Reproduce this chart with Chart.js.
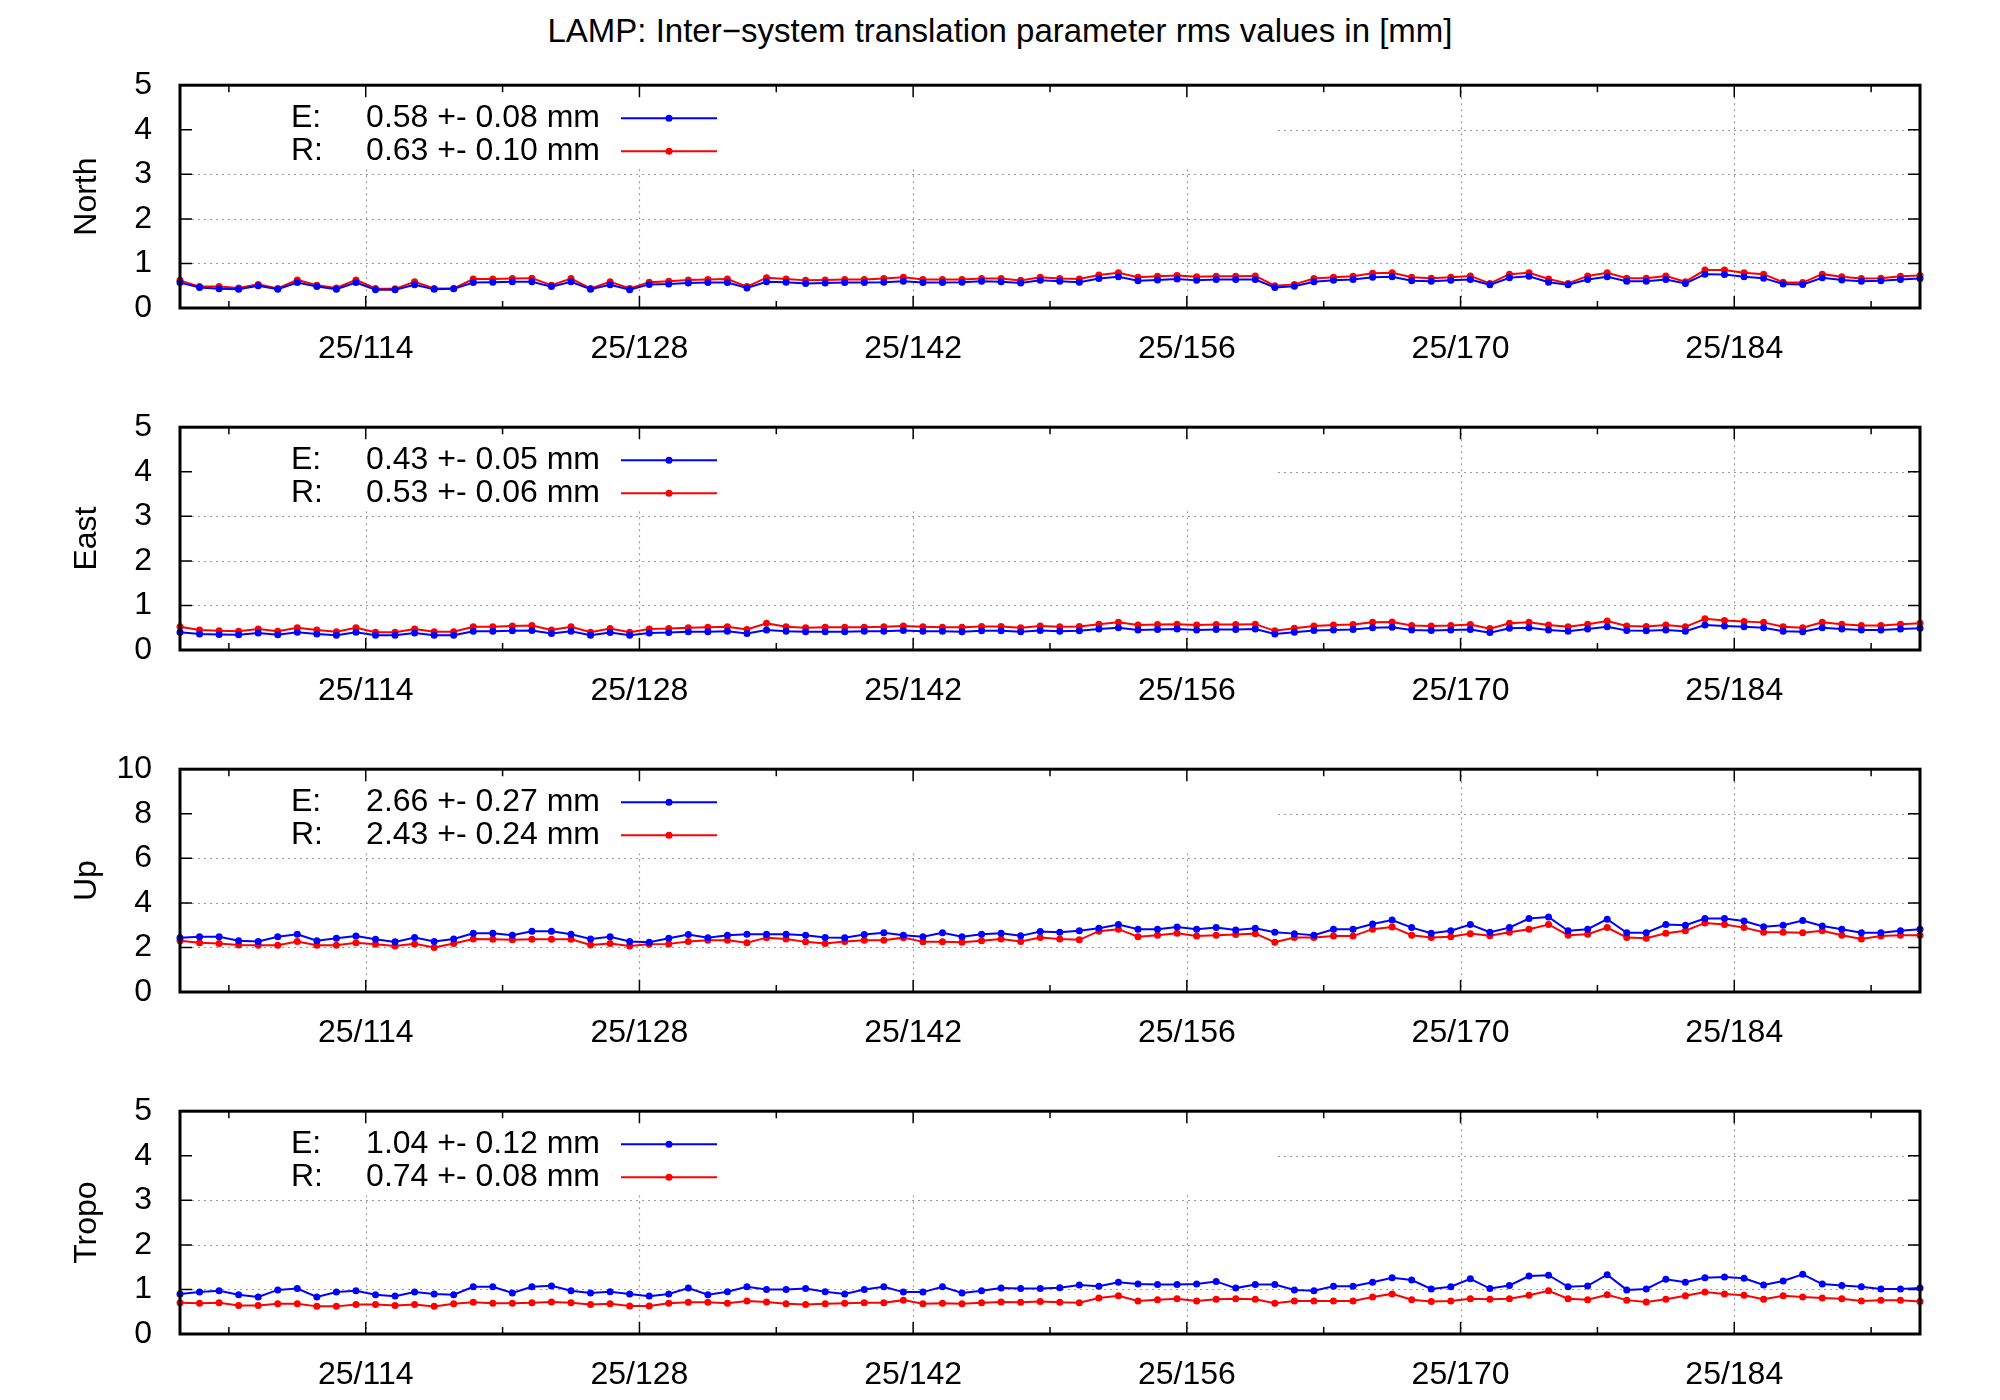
<!DOCTYPE html>
<html><head><meta charset="utf-8">
<script src="https://cdn.jsdelivr.net/npm/chart.js@4.4.0/dist/chart.umd.min.js"></script>
<style>
html,body{margin:0;padding:0;background:#fff;width:2000px;height:1400px;overflow:hidden;font-family:"Liberation Sans",Arial,sans-serif}
#title{position:absolute;top:12px;left:0;width:2000px;text-align:center;font-size:33px;color:#000}
.pc{position:absolute;left:0;width:2000px;height:322px}
canvas{display:block}
</style></head><body>
<div id="title">LAMP: Inter−system translation parameter rms values in [mm]</div>
<div class="pc" style="top:46px"><canvas id="c0" width="2000" height="322"></canvas></div>
<div class="pc" style="top:388px"><canvas id="c1" width="2000" height="322"></canvas></div>
<div class="pc" style="top:730px"><canvas id="c2" width="2000" height="322"></canvas></div>
<div class="pc" style="top:1072px"><canvas id="c3" width="2000" height="322"></canvas></div>
<script>
const xTicks=[114,128,142,156,170,184];
const panelNames=["North","East","Up","Tropo"];
const yMax=[5,5,10,5];
const yStep=[1,1,2,1];
const legendE=["E:   0.58 +- 0.08 mm","E:   0.43 +- 0.05 mm","E:   2.66 +- 0.27 mm","E:   1.04 +- 0.12 mm"];
const legendR=["R:   0.63 +- 0.10 mm","R:   0.53 +- 0.06 mm","R:   2.43 +- 0.24 mm","R:   0.74 +- 0.08 mm"];
const northE=[0.57,0.46,0.43,0.42,0.50,0.42,0.57,0.48,0.42,0.57,0.41,0.41,0.52,0.42,0.43,0.57,0.58,0.59,0.59,0.48,0.59,0.42,0.52,0.41,0.53,0.54,0.56,0.57,0.57,0.45,0.59,0.58,0.55,0.56,0.57,0.57,0.58,0.60,0.57,0.57,0.58,0.60,0.59,0.56,0.62,0.60,
0.58,0.66,0.70,0.61,0.63,0.65,0.62,0.64,0.64,0.64,0.46,0.49,0.59,0.62,0.64,0.69,0.70,0.61,0.60,0.62,0.64,0.52,0.68,0.71,0.58,0.52,0.64,0.70,0.60,0.60,0.64,0.55,0.76,0.75,0.70,0.67,0.54,0.53,0.68,0.63,0.60,0.61,0.64,0.66];
const northR=[0.62,0.48,0.48,0.45,0.53,0.44,0.63,0.51,0.45,0.63,0.44,0.43,0.59,0.44,0.44,0.65,0.65,0.66,0.67,0.51,0.66,0.44,0.59,0.44,0.58,0.60,0.63,0.64,0.65,0.48,0.68,0.65,0.62,0.63,0.64,0.64,0.66,0.69,0.64,0.64,0.64,0.66,0.66,0.62,0.69,0.66,
0.65,0.74,0.79,0.69,0.71,0.73,0.70,0.71,0.71,0.72,0.50,0.53,0.66,0.69,0.71,0.78,0.79,0.69,0.67,0.69,0.72,0.55,0.76,0.79,0.65,0.55,0.72,0.79,0.67,0.67,0.72,0.59,0.85,0.85,0.79,0.76,0.58,0.57,0.76,0.70,0.66,0.67,0.71,0.73];
const eastE=[0.40,0.36,0.35,0.34,0.38,0.34,0.40,0.36,0.33,0.40,0.33,0.33,0.38,0.33,0.33,0.42,0.42,0.43,0.44,0.37,0.42,0.33,0.39,0.33,0.38,0.39,0.41,0.41,0.42,0.37,0.45,0.42,0.41,0.41,0.41,0.42,0.42,0.44,0.42,0.42,0.41,0.43,0.43,0.41,0.44,0.42,
0.43,0.47,0.50,0.45,0.46,0.47,0.45,0.46,0.46,0.47,0.36,0.40,0.44,0.45,0.46,0.50,0.51,0.45,0.44,0.45,0.46,0.39,0.49,0.50,0.45,0.42,0.47,0.52,0.44,0.43,0.45,0.42,0.56,0.54,0.52,0.50,0.42,0.41,0.50,0.47,0.45,0.45,0.47,0.49];
const eastR=[0.52,0.45,0.43,0.42,0.47,0.42,0.50,0.45,0.41,0.50,0.40,0.40,0.47,0.41,0.41,0.52,0.52,0.54,0.55,0.45,0.52,0.40,0.48,0.40,0.47,0.48,0.50,0.51,0.52,0.46,0.60,0.52,0.50,0.51,0.51,0.51,0.52,0.54,0.52,0.51,0.51,0.53,0.53,0.50,0.54,0.52,
0.53,0.58,0.62,0.56,0.57,0.58,0.56,0.57,0.57,0.58,0.43,0.49,0.54,0.56,0.57,0.62,0.63,0.55,0.54,0.55,0.57,0.48,0.60,0.62,0.56,0.52,0.58,0.65,0.54,0.53,0.56,0.52,0.70,0.66,0.64,0.62,0.52,0.50,0.62,0.58,0.55,0.55,0.58,0.60];
const upE=[2.44,2.48,2.48,2.30,2.27,2.48,2.59,2.30,2.41,2.51,2.37,2.25,2.45,2.27,2.38,2.64,2.64,2.55,2.73,2.73,2.59,2.38,2.48,2.27,2.23,2.41,2.58,2.44,2.55,2.59,2.59,2.59,2.55,2.45,2.44,2.58,2.66,2.55,2.48,2.66,2.48,2.59,2.64,2.52,2.71,2.68,
2.75,2.86,3.03,2.82,2.82,2.92,2.82,2.89,2.78,2.86,2.68,2.62,2.55,2.82,2.82,3.05,3.23,2.89,2.64,2.75,3.03,2.68,2.89,3.30,3.37,2.75,2.82,3.27,2.66,2.66,3.03,3.00,3.30,3.30,3.19,2.93,3.00,3.21,2.96,2.82,2.66,2.66,2.75,2.82];
const upR=[2.30,2.21,2.18,2.11,2.10,2.10,2.27,2.10,2.10,2.21,2.14,2.07,2.16,2.00,2.18,2.38,2.37,2.34,2.37,2.37,2.37,2.11,2.18,2.07,2.14,2.16,2.27,2.32,2.32,2.21,2.44,2.38,2.25,2.18,2.27,2.32,2.32,2.44,2.25,2.25,2.23,2.30,2.38,2.27,2.45,2.38,
2.34,2.73,2.82,2.48,2.55,2.64,2.51,2.55,2.58,2.62,2.23,2.45,2.45,2.51,2.51,2.82,2.92,2.55,2.45,2.48,2.62,2.52,2.68,2.82,3.03,2.55,2.59,2.89,2.45,2.41,2.64,2.75,3.10,3.03,2.89,2.68,2.68,2.66,2.75,2.55,2.38,2.51,2.55,2.55];
const tropoE=[0.90,0.94,0.97,0.88,0.83,0.99,1.02,0.83,0.94,0.97,0.88,0.85,0.94,0.90,0.88,1.06,1.06,0.92,1.06,1.08,0.97,0.92,0.95,0.90,0.85,0.90,1.03,0.88,0.95,1.06,1.00,1.00,1.02,0.95,0.90,1.00,1.06,0.94,0.94,1.06,0.92,0.97,1.03,1.02,1.02,1.04,
1.10,1.07,1.16,1.12,1.11,1.11,1.12,1.18,1.03,1.11,1.11,0.99,0.97,1.07,1.07,1.16,1.26,1.21,1.01,1.06,1.24,1.02,1.09,1.30,1.32,1.06,1.08,1.33,0.99,1.01,1.23,1.16,1.26,1.28,1.25,1.10,1.19,1.34,1.12,1.09,1.06,1.01,1.01,1.03];
const tropoR=[0.70,0.69,0.70,0.64,0.64,0.68,0.68,0.62,0.62,0.66,0.66,0.64,0.66,0.62,0.68,0.71,0.69,0.69,0.70,0.72,0.70,0.66,0.68,0.63,0.63,0.69,0.71,0.71,0.69,0.74,0.72,0.68,0.66,0.68,0.69,0.70,0.70,0.76,0.68,0.69,0.68,0.70,0.72,0.71,0.73,0.71,
0.70,0.81,0.86,0.74,0.77,0.79,0.74,0.78,0.79,0.78,0.69,0.74,0.74,0.74,0.74,0.83,0.90,0.77,0.73,0.74,0.79,0.78,0.79,0.87,0.97,0.79,0.77,0.88,0.76,0.72,0.78,0.86,0.94,0.90,0.87,0.78,0.86,0.83,0.81,0.79,0.74,0.76,0.76,0.73];
const seriesE=[northE,eastE,upE,tropoE];
const seriesR=[northR,eastR,upR,tropoR];
const days=[];for(let i=0;i<90;i++)days.push(104.5+i);

const FONT='"Liberation Sans", Arial, sans-serif';
const FS=32;
function deco(p){return{
 id:'deco'+p,
 beforeDatasetsDraw(ch){
  const c=ch.ctx,a=ch.chartArea,xs=ch.scales.x,ys=ch.scales.y;
  c.save();
  c.beginPath();c.rect(a.left,a.top,a.right-a.left,a.bottom-a.top);c.clip();
  c.strokeStyle='#9a9a9a';c.lineWidth=1.2;c.setLineDash([2,4]);
  for(const t of xTicks){const x=Math.round(xs.getPixelForValue(t))+0.5;c.beginPath();c.moveTo(x,a.top);c.lineTo(x,a.bottom);c.stroke();}
  for(let v=yStep[p];v<yMax[p];v+=yStep[p]){const y=Math.round(ys.getPixelForValue(v))+0.5;c.beginPath();c.moveTo(a.left,y);c.lineTo(a.right,y);c.stroke();}
  c.setLineDash([]);
  c.fillStyle='#fff';c.fillRect(a.left,a.top,1276-a.left,84);
  c.strokeStyle='#000';c.lineWidth=1.5;
  const minors=xTicks.map(t=>t-7).concat([191]);
  for(const t of xTicks){const x=xs.getPixelForValue(t);c.beginPath();c.moveTo(x,a.bottom);c.lineTo(x,a.bottom-12);c.moveTo(x,a.top);c.lineTo(x,a.top+12);c.stroke();}
  for(const m of minors){const xm=xs.getPixelForValue(m);c.beginPath();c.moveTo(xm,a.bottom);c.lineTo(xm,a.bottom-7);c.moveTo(xm,a.top);c.lineTo(xm,a.top+7);c.stroke();}
  for(let v=0;v<=yMax[p];v+=yStep[p]){const y=ys.getPixelForValue(v);c.beginPath();c.moveTo(a.left,y);c.lineTo(a.left+12,y);c.moveTo(a.right,y);c.lineTo(a.right-12,y);c.stroke();}
  c.restore();
  c.save();c.font=FS+'px '+FONT;c.fillStyle='#000';c.textBaseline='middle';
  const rows=[[legendE[p],'#0000ff',a.top+33],[legendR[p],'#ff0000',a.top+66]];
  for(const [txt,col,y] of rows){
   const parts=txt.split(/\s{3}/);
   c.fillStyle='#000';
   c.textAlign='left';c.fillText(parts[0],291,y);
   c.textAlign='right';c.fillText(parts[1],600,y);
   c.strokeStyle=col;c.lineWidth=2;c.beginPath();c.moveTo(621,y);c.lineTo(717,y);c.stroke();
   c.fillStyle=col;c.beginPath();c.arc(669,y,3.5,0,Math.PI*2);c.fill();
  }
  c.restore();
 },
 afterDraw(ch){
  const c=ch.ctx,a=ch.chartArea;
  c.save();c.strokeStyle='#000';c.lineWidth=3;c.strokeRect(a.left,a.top,a.right-a.left,a.bottom-a.top);
  c.translate(87,(a.top+a.bottom)/2);c.rotate(-Math.PI/2);c.font=FS+'px '+FONT;c.fillStyle='#000';c.textAlign='center';c.textBaseline='middle';c.fillText(panelNames[p],0,0);
  c.restore();
 }
};}

for(let p=0;p<4;p++){
 const mk=(vals,col)=>({data:days.map((d,i)=>({x:d,y:vals[i]})),borderColor:col,backgroundColor:col,borderWidth:2,pointRadius:3.5,pointHoverRadius:3.5,pointBorderWidth:0,tension:0,clip:false});
 new Chart(document.getElementById('c'+p),{
  type:'line',
  data:{datasets:[mk(seriesE[p],'#0000ff'),mk(seriesR[p],'#ff0000')]},
  options:{responsive:false,animation:false,devicePixelRatio:1,
   layout:{padding:{top:20,right:80,left:0,bottom:0}},
   plugins:{legend:{display:false},tooltip:{enabled:false}},
   scales:{
    x:{type:'linear',min:104.5,max:193.5,
     afterBuildTicks(s){s.ticks=xTicks.map(v=>({value:v}));},
     afterFit(s){s.height=60;},
     grid:{display:false},border:{display:false},
     ticks:{padding:14,color:'#000',font:{size:FS,family:FONT},maxRotation:0,autoSkip:false,callback:v=>'25/'+v}},
    y:{min:0,max:yMax[p],afterFit(s){s.width=180;},
     grid:{display:false},border:{display:false},
     ticks:{stepSize:yStep[p],padding:20,color:'#000',font:{size:FS,family:FONT}}}
   }
  },
  plugins:[deco(p)]
 });
}
</script>
</body></html>
